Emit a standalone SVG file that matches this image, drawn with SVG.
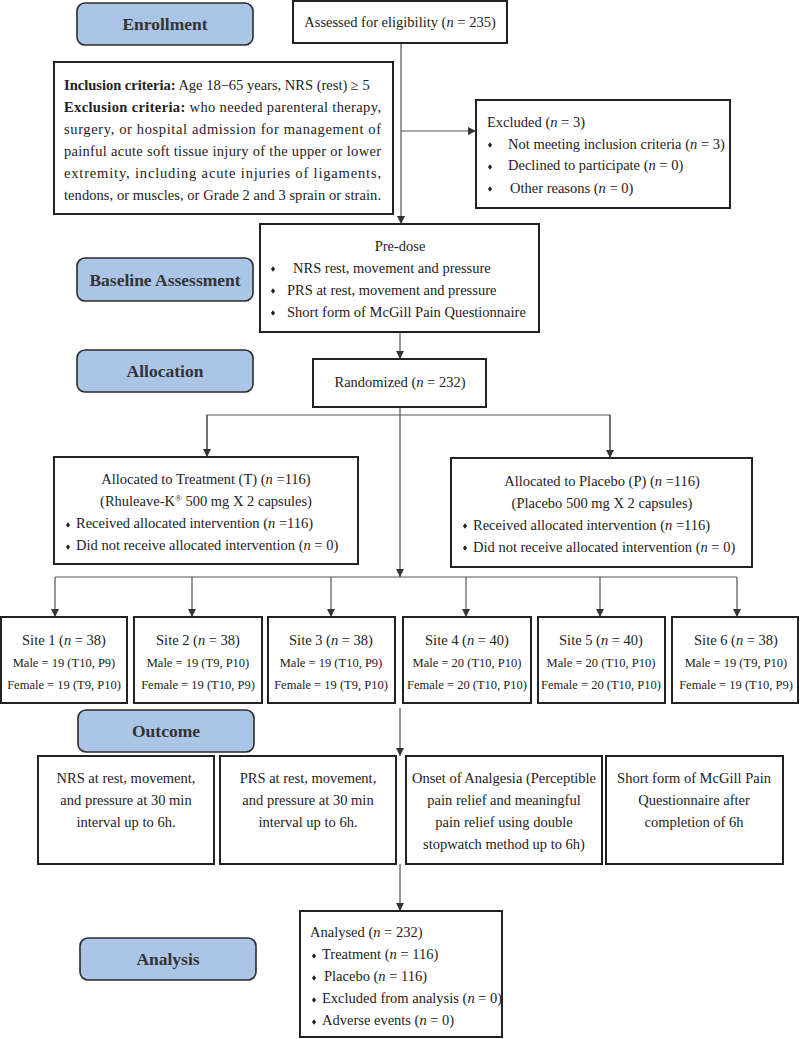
<svg xmlns="http://www.w3.org/2000/svg" width="800" height="1039" viewBox="0 0 800 1039">
<style>
.pill{fill:#abc5e7;stroke:#2b2b2b;stroke-width:1.6}
.box{fill:#fff;stroke:#222;stroke-width:2}
.ph{font-family:"Liberation Serif",serif;font-weight:bold;font-size:17.5px;fill:#333;text-anchor:middle}
.t{font-family:"Liberation Serif",serif;font-size:14.5px;fill:#222}
.s{font-family:"Liberation Serif",serif;font-size:12.5px;fill:#222;text-anchor:middle}
.c{text-anchor:middle}
.b{font-weight:bold}
.i{font-style:italic}
.ln{fill:none;stroke:#555;stroke-width:1.2}
.arr{fill:none;stroke:#555;stroke-width:1.2;marker-end:url(#ah)}
.dot{fill:#222}
</style>
<defs>
<marker id="ah" markerUnits="userSpaceOnUse" markerWidth="9" markerHeight="9" refX="8" refY="4.5" orient="auto">
<path d="M0,0.5 L8,4.5 L0,8.5 Z" fill="#333"/>
</marker>
<path id="bul" d="M0,-2.8 L2.1,0 L0,2.8 L-2.1,0 Z"/>
</defs>

<g id="connectors">
<line class="arr" x1="401" y1="43" x2="401" y2="224"/>
<line class="arr" x1="401" y1="131" x2="476" y2="131"/>
<line class="arr" x1="400" y1="332" x2="400" y2="359"/>
<line class="arr" x1="400" y1="407" x2="400" y2="577"/>
<polyline class="ln" points="207,456 207,415 610,415 610,457"/>
<line class="arr" x1="207" y1="415" x2="207" y2="457"/>
<line class="arr" x1="610" y1="415" x2="610" y2="458"/>
<line class="ln" x1="55" y1="577" x2="737" y2="577"/>
<line class="arr" x1="55" y1="577" x2="55" y2="617"/>
<line class="arr" x1="192" y1="577" x2="192" y2="617"/>
<line class="arr" x1="331" y1="577" x2="331" y2="617"/>
<line class="arr" x1="466" y1="577" x2="466" y2="617"/>
<line class="arr" x1="600" y1="577" x2="600" y2="617"/>
<line class="arr" x1="737" y1="577" x2="737" y2="617"/>
<line class="arr" x1="400" y1="708" x2="400" y2="756"/>
<line class="arr" x1="400" y1="864" x2="400" y2="911"/>
</g>

<g id="enrollment">
<rect class="pill" x="77" y="3" width="176" height="42" rx="8"/>
<text class="ph" x="165" y="30">Enrollment</text>
</g>
<g id="baseline-label">
<rect class="pill" x="77" y="258" width="176" height="43" rx="8"/>
<text class="ph" x="165" y="286">Baseline Assessment</text>
</g>
<g id="allocation-label">
<rect class="pill" x="77" y="350" width="176" height="42" rx="8"/>
<text class="ph" x="165" y="377">Allocation</text>
</g>
<g id="outcome-label">
<rect class="pill" x="78" y="710" width="176" height="42" rx="8"/>
<text class="ph" x="166" y="737">Outcome</text>
</g>
<g id="analysis-label">
<rect class="pill" x="80" y="938" width="176" height="42" rx="8"/>
<text class="ph" x="168" y="965">Analysis</text>
</g>

<g id="assessed">
<rect class="box" x="293" y="1" width="214" height="42"/>
<text class="t c" x="400" y="27">Assessed for eligibility (<tspan class="i">n</tspan> = 235)</text>
</g>

<g id="criteria">
<rect class="box" x="54" y="62" width="339" height="152"/>
<text class="t" x="64" y="90"><tspan class="b">Inclusion criteria:</tspan> Age 18−65 years, NRS (rest) ≥ 5</text>
<text class="t" x="64" y="112" textLength="317" lengthAdjust="spacing"><tspan class="b">Exclusion criteria:</tspan> who needed parenteral therapy,</text>
<text class="t" x="64" y="134" textLength="317" lengthAdjust="spacing">surgery, or hospital admission for management of</text>
<text class="t" x="64" y="156" textLength="317" lengthAdjust="spacing">painful acute soft tissue injury of the upper or lower</text>
<text class="t" x="64" y="178" textLength="317" lengthAdjust="spacing">extremity, including acute injuries of ligaments,</text>
<text class="t" x="64" y="200" textLength="317" lengthAdjust="spacing">tendons, or muscles, or Grade 2 and 3 sprain or strain.</text>
</g>

<g id="excluded">
<rect class="box" x="476" y="100" width="254" height="108"/>
<text class="t" x="487" y="127">Excluded (<tspan class="i">n</tspan> = 3)</text>
<use href="#bul" class="dot" x="490" y="145"/>
<text class="t" x="508" y="149">Not meeting inclusion criteria (<tspan class="i">n</tspan> = 3)</text>
<use href="#bul" class="dot" x="490" y="167"/>
<text class="t" x="508" y="170">Declined to participate (<tspan class="i">n</tspan> = 0)</text>
<use href="#bul" class="dot" x="490" y="189"/>
<text class="t" x="510" y="193">Other reasons (<tspan class="i">n</tspan> = 0)</text>
</g>

<g id="predose">
<rect class="box" x="260" y="224" width="279" height="108"/>
<text class="t c" x="400" y="251">Pre-dose</text>
<use href="#bul" class="dot" x="273" y="269"/>
<text class="t" x="293" y="273">NRS rest, movement and pressure</text>
<use href="#bul" class="dot" x="273" y="291"/>
<text class="t" x="287" y="295">PRS at rest, movement and pressure</text>
<use href="#bul" class="dot" x="273" y="313"/>
<text class="t" x="287" y="317">Short form of McGill Pain Questionnaire</text>
</g>

<g id="randomized">
<rect class="box" x="313" y="359" width="173" height="48"/>
<text class="t c" x="400" y="387">Randomized (<tspan class="i">n</tspan> = 232)</text>
</g>

<g id="treatment">
<rect class="box" x="54" y="457" width="304" height="107"/>
<text class="t c" x="206" y="484">Allocated to Treatment (T) (<tspan class="i">n</tspan> =116)</text>
<text class="t c" x="206" y="506">(Rhuleave-K<tspan font-size="9" baseline-shift="super">®</tspan> 500 mg X 2 capsules)</text>
<use href="#bul" class="dot" x="68" y="525"/>
<text class="t" x="76" y="528">Received allocated intervention (<tspan class="i">n</tspan> =116)</text>
<use href="#bul" class="dot" x="68" y="547"/>
<text class="t" x="76" y="550">Did not receive allocated intervention (<tspan class="i">n</tspan> = 0)</text>
</g>

<g id="placebo">
<rect class="box" x="451" y="458" width="301" height="109"/>
<text class="t c" x="602" y="486">Allocated to Placebo (P) (<tspan class="i">n</tspan> =116)</text>
<text class="t c" x="602" y="508">(Placebo 500 mg X 2 capsules)</text>
<use href="#bul" class="dot" x="465" y="526"/>
<text class="t" x="473" y="530">Received allocated intervention (<tspan class="i">n</tspan> =116)</text>
<use href="#bul" class="dot" x="465" y="548"/>
<text class="t" x="473" y="552">Did not receive allocated intervention (<tspan class="i">n</tspan> = 0)</text>
</g>

<g id="site1">
<rect class="box" x="1" y="617" width="126" height="86"/>
<text class="t c" x="64" y="645" font-size="14">Site 1 (<tspan class="i">n</tspan> = 38)</text>
<text class="s" x="64" y="667">Male = 19 (T10, P9)</text>
<text class="s" x="64" y="689">Female = 19 (T9, P10)</text>
</g>
<g id="site2">
<rect class="box" x="134" y="617" width="128" height="86"/>
<text class="t c" x="198" y="645" font-size="14">Site 2 (<tspan class="i">n</tspan> = 38)</text>
<text class="s" x="198" y="667">Male = 19 (T9, P10)</text>
<text class="s" x="198" y="689">Female = 19 (T10, P9)</text>
</g>
<g id="site3">
<rect class="box" x="268" y="617" width="127" height="86"/>
<text class="t c" x="331" y="645" font-size="14">Site 3 (<tspan class="i">n</tspan> = 38)</text>
<text class="s" x="331" y="667">Male = 19 (T10, P9)</text>
<text class="s" x="331" y="689">Female = 19 (T9, P10)</text>
</g>
<g id="site4">
<rect class="box" x="403" y="617" width="128" height="86"/>
<text class="t c" x="467" y="645" font-size="14">Site 4 (<tspan class="i">n</tspan> = 40)</text>
<text class="s" x="467" y="667">Male = 20 (T10, P10)</text>
<text class="s" x="467" y="689">Female = 20 (T10, P10)</text>
</g>
<g id="site5">
<rect class="box" x="538" y="617" width="127" height="86"/>
<text class="t c" x="601" y="645" font-size="14">Site 5 (<tspan class="i">n</tspan> = 40)</text>
<text class="s" x="601" y="667">Male = 20 (T10, P10)</text>
<text class="s" x="601" y="689">Female = 20 (T10, P10)</text>
</g>
<g id="site6">
<rect class="box" x="672" y="617" width="126" height="86"/>
<text class="t c" x="736" y="645" font-size="14">Site 6 (<tspan class="i">n</tspan> = 38)</text>
<text class="s" x="736" y="667">Male = 19 (T9, P10)</text>
<text class="s" x="736" y="689">Female = 19 (T10, P9)</text>
</g>

<g id="outcome-nrs">
<rect class="box" x="38" y="756" width="176" height="108"/>
<text class="t c" x="126" y="783">NRS at rest, movement,</text>
<text class="t c" x="126" y="805">and pressure at 30 min</text>
<text class="t c" x="126" y="827">interval up to 6h.</text>
</g>
<g id="outcome-prs">
<rect class="box" x="220" y="756" width="176" height="108"/>
<text class="t c" x="308" y="783">PRS at rest, movement,</text>
<text class="t c" x="308" y="805">and pressure at 30 min</text>
<text class="t c" x="308" y="827">interval up to 6h.</text>
</g>
<g id="outcome-onset">
<rect class="box" x="406" y="756" width="196" height="108"/>
<text class="t c" x="504" y="783">Onset of Analgesia (Perceptible</text>
<text class="t c" x="504" y="805">pain relief and meaningful</text>
<text class="t c" x="504" y="827">pain relief using double</text>
<text class="t c" x="504" y="849">stopwatch method up to 6h)</text>
</g>
<g id="outcome-mcgill">
<rect class="box" x="606" y="756" width="177" height="108"/>
<text class="t c" x="694" y="783">Short form of McGill Pain</text>
<text class="t c" x="694" y="805">Questionnaire after</text>
<text class="t c" x="694" y="827">completion of 6h</text>
</g>

<g id="analysed">
<rect class="box" x="300" y="911" width="202" height="126"/>
<text class="t" x="310" y="937">Analysed (<tspan class="i">n</tspan> = 232)</text>
<use href="#bul" class="dot" x="314" y="956"/>
<text class="t" x="322" y="959">Treatment (<tspan class="i">n</tspan> = 116)</text>
<use href="#bul" class="dot" x="314" y="978"/>
<text class="t" x="324" y="981">Placebo (<tspan class="i">n</tspan> = 116)</text>
<use href="#bul" class="dot" x="314" y="1000"/>
<text class="t" x="322" y="1003">Excluded from analysis (<tspan class="i">n</tspan> = 0)</text>
<use href="#bul" class="dot" x="314" y="1022"/>
<text class="t" x="322" y="1025">Adverse events (<tspan class="i">n</tspan> = 0)</text>
</g>
</svg>
